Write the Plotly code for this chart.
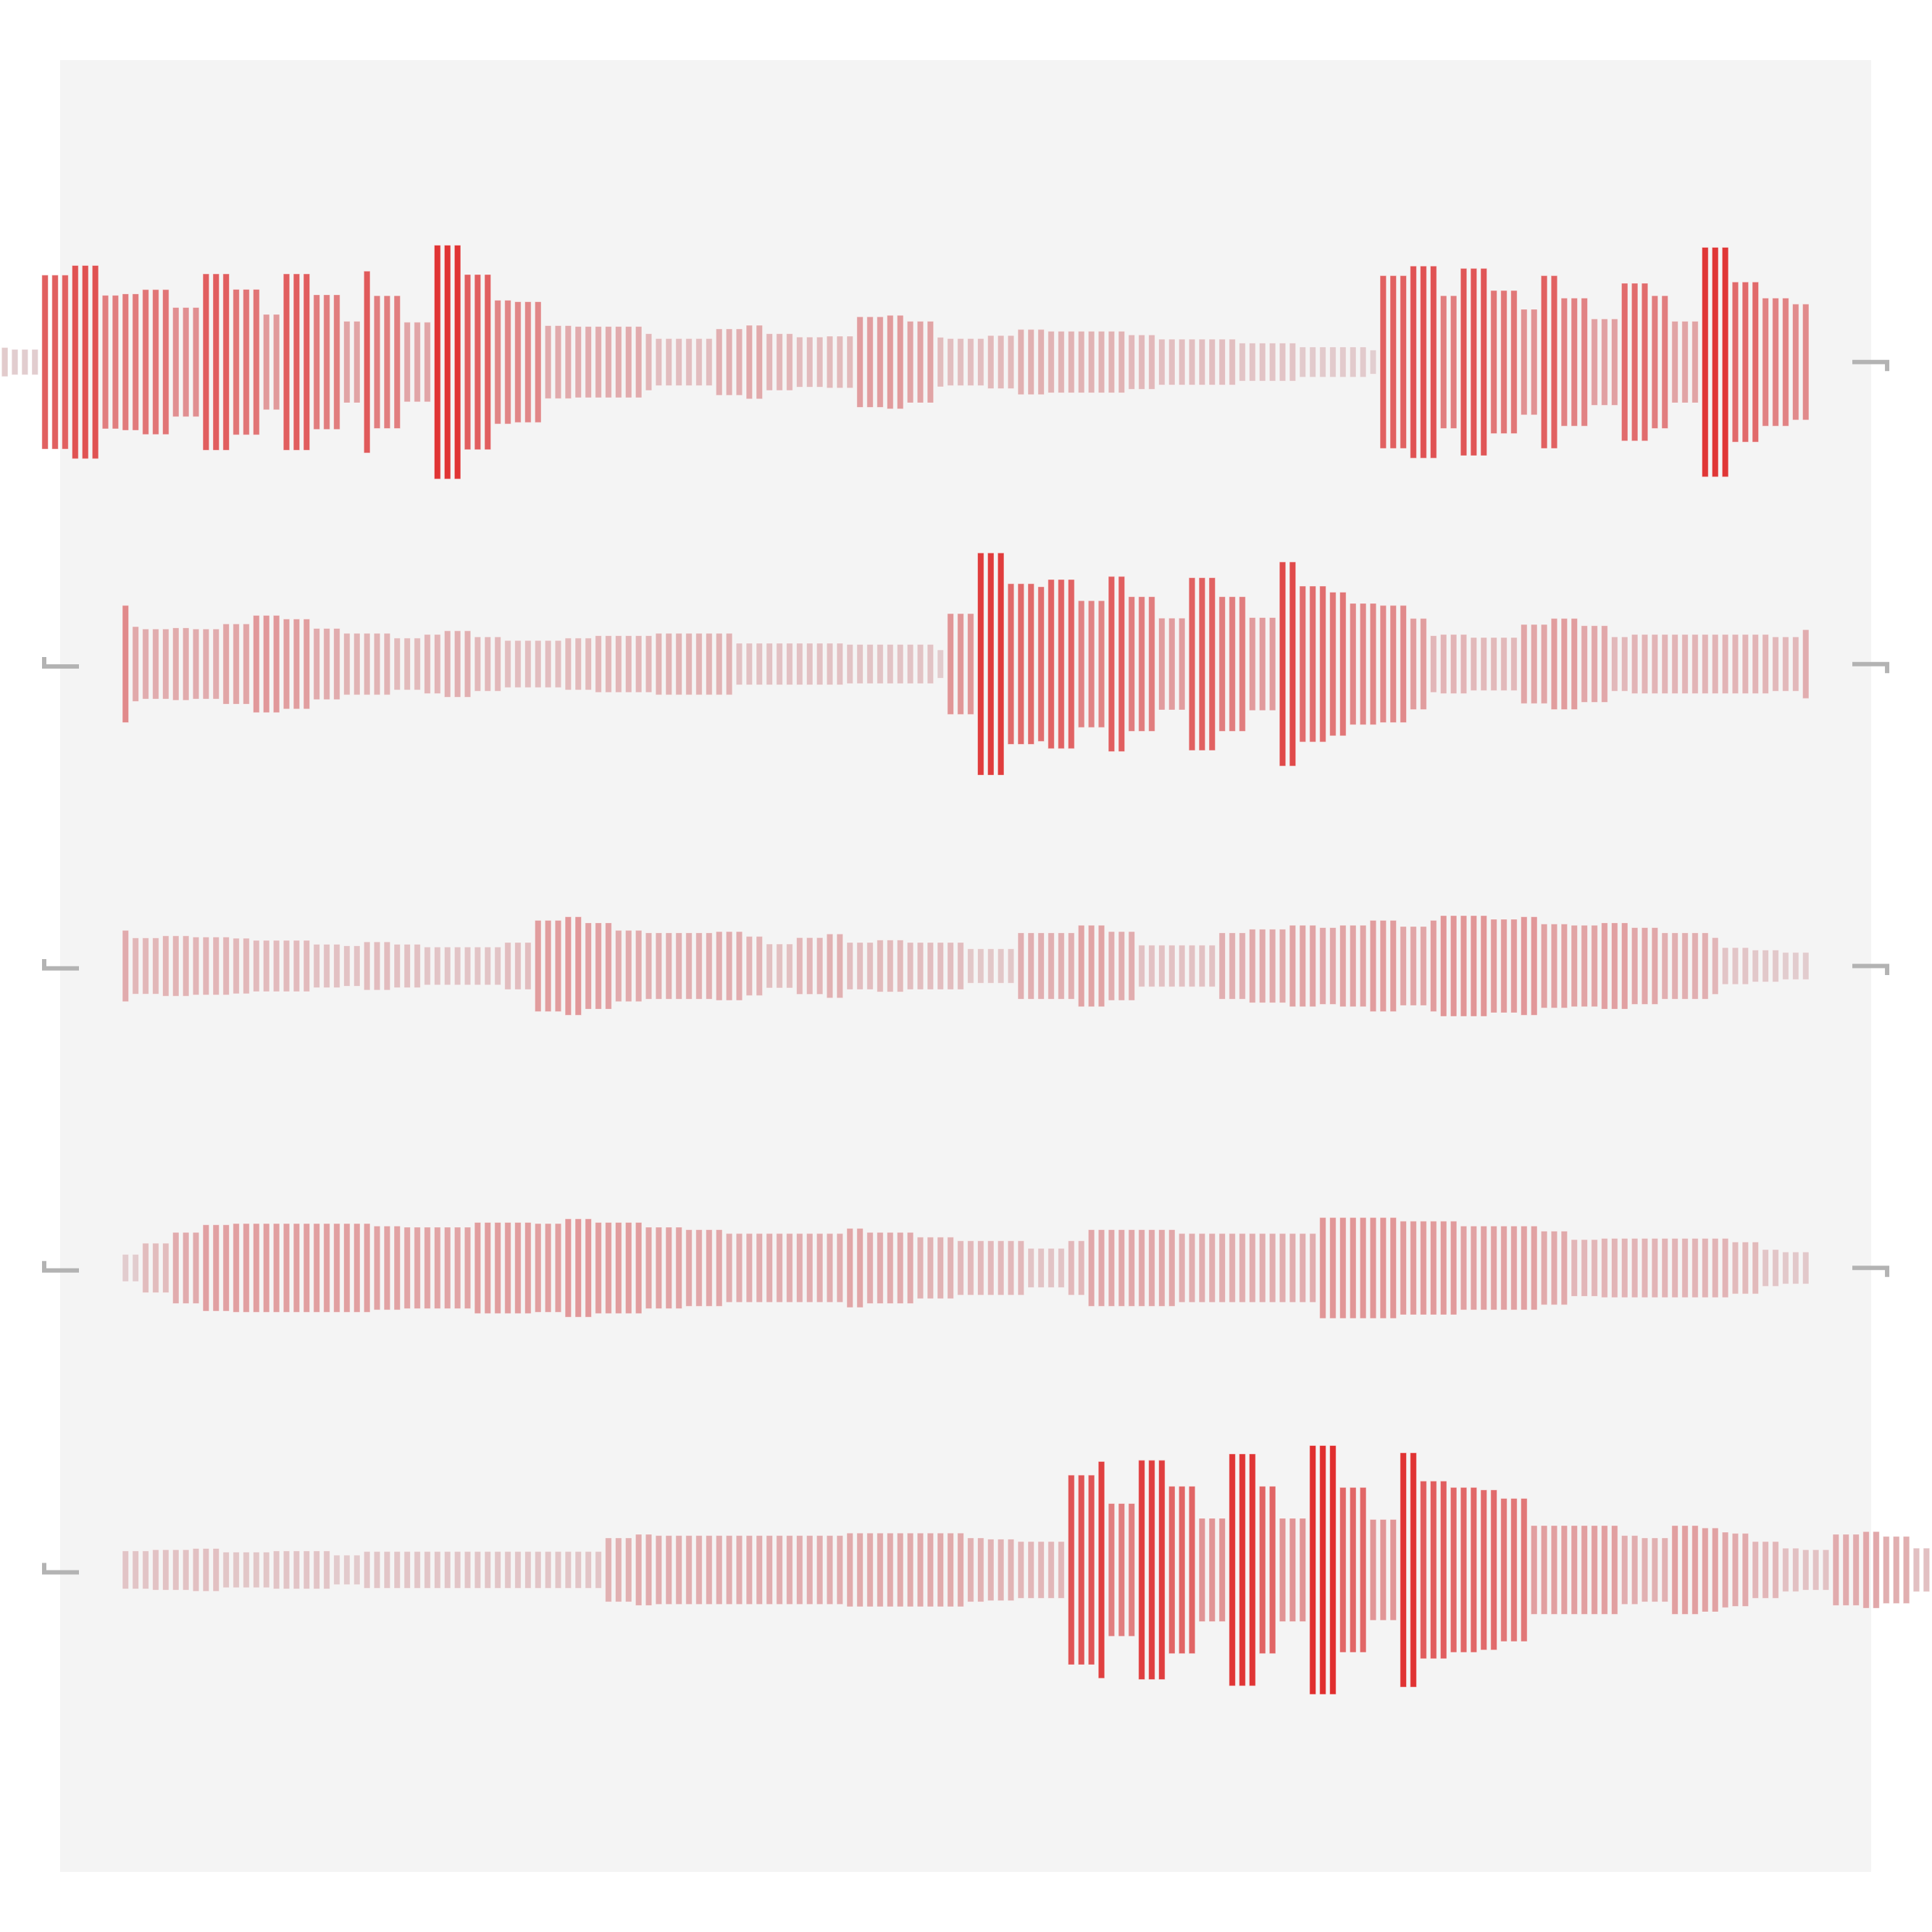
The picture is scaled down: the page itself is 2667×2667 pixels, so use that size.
import numpy as np
import plotly.graph_objects as go

# ---- data: half-amplitude of each bar (y units, row spacing = 100) ----
row_centers = [100, 200, 300, 400, 500]
row_starts = [-6, 6, 6, 6, 6]

row1 = [4.8, 4.2, 4.2, 4.2, 28.8, 28.8, 28.8, 32.0, 32.0, 32.0,
        22.1, 22.1, 22.6, 22.6, 24.0, 24.0, 24.0, 18.1, 18.1, 18.1,
        29.2, 29.2, 29.2, 24.1, 24.1, 24.1, 15.8, 15.8, 29.2, 29.2,
        29.2, 22.3, 22.3, 22.3, 13.5, 13.5, 30.1, 22.0, 22.0, 22.0,
        13.2, 13.2, 13.2, 38.7, 38.7, 38.7, 29.0, 29.0, 29.0, 20.5,
        20.5, 20.0, 20.0, 20.0, 12.1, 12.1, 12.1, 11.8, 11.8, 11.8,
        11.8, 11.8, 11.8, 11.8, 9.4, 7.8, 7.8, 7.8, 7.8, 7.8,
        7.8, 11.0, 11.0, 11.0, 12.2, 12.2, 9.4, 9.4, 9.4, 8.3,
        8.3, 8.3, 8.6, 8.6, 8.6, 15.0, 15.0, 15.0, 15.5, 15.5,
        13.5, 13.5, 13.5, 8.2, 7.8, 7.8, 7.8, 7.8, 8.8, 8.8,
        8.8, 10.8, 10.8, 10.8, 10.2, 10.2, 10.2, 10.2, 10.2, 10.2,
        10.2, 10.2, 9.0, 9.0, 9.0, 7.6, 7.6, 7.6, 7.6, 7.6,
        7.6, 7.6, 7.6, 6.3, 6.3, 6.3, 6.3, 6.3, 6.3, 5.0,
        5.0, 5.0, 5.0, 5.0, 5.0, 5.0, 4.0, 28.6, 28.6, 28.6,
        31.8, 31.8, 31.8, 22.0, 22.0, 31.0, 31.0, 31.0, 23.7, 23.7,
        23.7, 17.5, 17.5, 28.6, 28.6, 21.2, 21.2, 21.2, 14.3, 14.3,
        14.3, 26.1, 26.1, 26.1, 22.0, 22.0, 13.5, 13.5, 13.5, 38.0,
        38.0, 38.0, 26.5, 26.5, 26.5, 21.2, 21.2, 21.2, 19.2, 19.2]

row2 = [19.4, 12.4, 11.6, 11.6, 11.6, 12.0, 12.0, 11.6, 11.6, 11.6,
        13.3, 13.3, 13.3, 16.1, 16.1, 16.1, 14.9, 14.9, 14.9, 11.8,
        11.8, 11.8, 10.2, 10.2, 10.2, 10.2, 10.2, 8.6, 8.6, 8.6,
        9.8, 9.8, 11.0, 11.0, 11.0, 9.0, 9.0, 9.0, 7.8, 7.8,
        7.8, 7.8, 7.8, 7.8, 8.6, 8.6, 8.6, 9.4, 9.4, 9.4,
        9.4, 9.4, 9.4, 10.2, 10.2, 10.2, 10.2, 10.2, 10.2, 10.2,
        10.2, 6.9, 6.9, 6.9, 6.9, 6.9, 6.9, 6.9, 6.9, 6.9,
        6.9, 6.9, 6.5, 6.5, 6.5, 6.5, 6.5, 6.5, 6.5, 6.5,
        6.5, 4.7, 16.7, 16.7, 16.7, 36.8, 36.8, 36.8, 26.6, 26.6,
        26.6, 25.6, 28.0, 28.0, 28.0, 21.0, 21.0, 21.0, 29.0, 29.0,
        22.3, 22.3, 22.3, 15.2, 15.2, 15.2, 28.6, 28.6, 28.6, 22.3,
        22.3, 22.3, 15.4, 15.4, 15.4, 33.8, 33.8, 25.8, 25.8, 25.8,
        23.8, 23.8, 20.1, 20.1, 20.1, 19.4, 19.4, 19.4, 15.1, 15.1,
        9.4, 9.8, 9.8, 9.8, 8.8, 8.8, 8.8, 8.8, 8.8, 13.1,
        13.1, 13.1, 15.1, 15.1, 15.1, 12.7, 12.7, 12.7, 9.0, 9.0,
        9.8, 9.8, 9.8, 9.8, 9.8, 9.8, 9.8, 9.8, 9.8, 9.8,
        9.8, 9.8, 9.8, 9.8, 9.0, 9.0, 9.0, 11.4]

row3 = [11.8, 9.3, 9.3, 9.3, 10.0, 10.0, 10.0, 9.6, 9.6, 9.6,
        9.6, 9.2, 9.2, 8.5, 8.5, 8.5, 8.5, 8.5, 8.5, 7.2,
        7.2, 7.2, 6.7, 6.7, 8.0, 8.0, 8.0, 7.2, 7.2, 7.2,
        6.3, 6.3, 6.3, 6.3, 6.3, 6.3, 6.3, 6.3, 7.8, 7.8,
        7.8, 15.1, 15.1, 15.1, 16.3, 16.3, 14.3, 14.3, 14.3, 11.8,
        11.8, 11.8, 11.0, 11.0, 11.0, 11.0, 11.0, 11.0, 11.0, 11.4,
        11.4, 11.4, 9.8, 9.8, 7.3, 7.3, 7.3, 9.4, 9.4, 9.4,
        10.6, 10.6, 7.8, 7.8, 7.8, 8.6, 8.6, 8.6, 7.8, 7.8,
        7.8, 7.8, 7.8, 7.8, 5.7, 5.7, 5.7, 5.7, 5.7, 11.0,
        11.0, 11.0, 11.0, 11.0, 11.0, 13.5, 13.5, 13.5, 11.4, 11.4,
        11.4, 6.9, 6.9, 6.9, 6.9, 6.9, 6.9, 6.9, 6.9, 11.0,
        11.0, 11.0, 12.2, 12.2, 12.2, 12.2, 13.5, 13.5, 13.5, 12.7,
        12.7, 13.5, 13.5, 13.5, 15.1, 15.1, 15.1, 13.1, 13.1, 13.1,
        15.1, 16.7, 16.7, 16.7, 16.7, 16.7, 15.5, 15.5, 15.5, 16.3,
        16.3, 13.9, 13.9, 13.9, 13.5, 13.5, 13.5, 14.3, 14.3, 14.3,
        12.7, 12.7, 12.7, 11.0, 11.0, 11.0, 11.0, 11.0, 9.4, 6.1,
        6.1, 6.1, 5.3, 5.3, 5.3, 4.5, 4.5, 4.5]

row4 = [4.5, 4.5, 8.2, 8.2, 8.2, 11.8, 11.8, 11.8, 14.3, 14.3,
        14.3, 14.7, 14.7, 14.7, 14.7, 14.7, 14.7, 14.7, 14.7, 14.7,
        14.7, 14.7, 14.7, 14.7, 14.7, 13.9, 13.9, 13.9, 13.5, 13.5,
        13.5, 13.5, 13.5, 13.5, 13.5, 15.1, 15.1, 15.1, 15.1, 15.1,
        15.1, 14.7, 14.7, 14.7, 16.3, 16.3, 16.3, 15.1, 15.1, 15.1,
        15.1, 15.1, 13.5, 13.5, 13.5, 13.5, 12.7, 12.7, 12.7, 12.7,
        11.4, 11.4, 11.4, 11.4, 11.4, 11.4, 11.4, 11.4, 11.4, 11.4,
        11.4, 11.4, 13.1, 13.1, 11.8, 11.8, 11.8, 11.8, 11.8, 10.2,
        10.2, 10.2, 10.2, 9.0, 9.0, 9.0, 9.0, 9.0, 9.0, 9.0,
        6.5, 6.5, 6.5, 6.5, 9.0, 9.0, 12.7, 12.7, 12.7, 12.7,
        12.7, 12.7, 12.7, 12.7, 12.7, 11.4, 11.4, 11.4, 11.4, 11.4,
        11.4, 11.4, 11.4, 11.4, 11.4, 11.4, 11.4, 11.4, 11.4, 16.7,
        16.7, 16.7, 16.7, 16.7, 16.7, 16.7, 16.7, 15.5, 15.5, 15.5,
        15.5, 15.5, 15.5, 13.9, 13.9, 13.9, 13.9, 13.9, 13.9, 13.9,
        13.9, 12.2, 12.2, 12.2, 9.4, 9.4, 9.4, 9.8, 9.8, 9.8,
        9.8, 9.8, 9.8, 9.8, 9.8, 9.8, 9.8, 9.8, 9.8, 9.8,
        8.6, 8.6, 8.6, 6.1, 6.1, 5.3, 5.3, 5.3]

row5 = [6.3, 6.3, 6.3, 6.7, 6.7, 6.7, 6.7, 7.1, 7.1, 7.1,
        5.9, 5.9, 5.9, 5.9, 5.9, 6.3, 6.3, 6.3, 6.3, 6.3,
        6.3, 4.9, 4.9, 4.9, 6.1, 6.1, 6.1, 6.1, 6.1, 6.1,
        6.1, 6.1, 6.1, 6.1, 6.1, 6.1, 6.1, 6.1, 6.1, 6.1,
        6.1, 6.1, 6.1, 6.1, 6.1, 6.1, 6.1, 6.1, 10.6, 10.6,
        10.6, 11.8, 11.8, 11.4, 11.4, 11.4, 11.4, 11.4, 11.4, 11.4,
        11.4, 11.4, 11.4, 11.4, 11.4, 11.4, 11.4, 11.4, 11.4, 11.4,
        11.4, 11.4, 12.2, 12.2, 12.2, 12.2, 12.2, 12.2, 12.2, 12.2,
        12.2, 12.2, 12.2, 12.2, 10.6, 10.6, 10.2, 10.2, 10.2, 9.4,
        9.4, 9.4, 9.4, 9.4, 31.4, 31.4, 31.4, 35.9, 22.0, 22.0,
        22.0, 36.3, 36.3, 36.3, 27.7, 27.7, 27.7, 17.1, 17.1, 17.1,
        38.4, 38.4, 38.4, 27.7, 27.7, 17.1, 17.1, 17.1, 41.2, 41.2,
        41.2, 27.3, 27.3, 27.3, 16.7, 16.7, 16.7, 38.8, 38.8, 29.4,
        29.4, 29.4, 27.3, 27.3, 27.3, 26.5, 26.5, 23.7, 23.7, 23.7,
        14.7, 14.7, 14.7, 14.7, 14.7, 14.7, 14.7, 14.7, 14.7, 11.4,
        11.4, 10.6, 10.6, 10.6, 14.7, 14.7, 14.7, 13.9, 13.9, 12.5,
        12.1, 12.1, 9.4, 9.4, 9.4, 7.2, 7.2, 6.7, 6.7, 6.7,
        11.8, 11.8, 11.8, 12.7, 12.7, 11.1, 11.1, 11.1, 7.2, 7.2]

rows = [row1, row2, row3, row4, row5]

# x axis: slots -0.5..179.5 form the grey panel; the axis spans the full page width
X_LO, X_HI = -6.476, 185.548
PANEL = (-0.5, 179.5)

fig = go.Figure()
for center, start, amps in zip(row_centers, row_starts, rows):
    a = np.array(amps, dtype=float)
    x = start + np.arange(len(a))
    fig.add_trace(go.Bar(
        x=x, y=2 * a, base=center - a,
        width=0.62,
        marker=dict(color=a, colorscale=[[0, 'rgb(226,224,226)'], [1, 'rgb(224,46,46)']],
                    cmin=0, cmax=40,
                    line=dict(color='rgba(255,255,255,0.45)', width=1)),
        hoverinfo='skip', showlegend=False))

shapes = [dict(type='rect', xref='x', yref='paper', x0=PANEL[0], x1=PANEL[1], y0=0, y1=1,
               fillcolor='#f4f4f4', line=dict(width=0), layer='below')]
gray = '#b3b3b3'
for c in row_centers[1:]:
    shapes.append(dict(type='path', xref='x', yref='y',
                       path=f'M -2.084,{c - 2.3} L -2.084,{c + 0.8} L 1.372,{c + 0.8}',
                       line=dict(color=gray, width=6)))
for c in row_centers[:-1]:
    shapes.append(dict(type='path', xref='x', yref='y',
                       path=f'M 177.63,{c} L 181.09,{c} L 181.09,{c + 3.0}',
                       line=dict(color=gray, width=6)))

fig.update_layout(
    width=2667, height=2667,
    margin=dict(l=0, r=0, t=83, b=83),
    plot_bgcolor='white', paper_bgcolor='white',
    barmode='overlay', showlegend=False, shapes=shapes,
    xaxis=dict(range=[X_LO, X_HI], showgrid=False, zeroline=False,
               showticklabels=False, ticks=''),
    yaxis=dict(range=[600, 0], showgrid=False, zeroline=False,
               showticklabels=False, ticks=''),
)
fig.write_html('out.html')
